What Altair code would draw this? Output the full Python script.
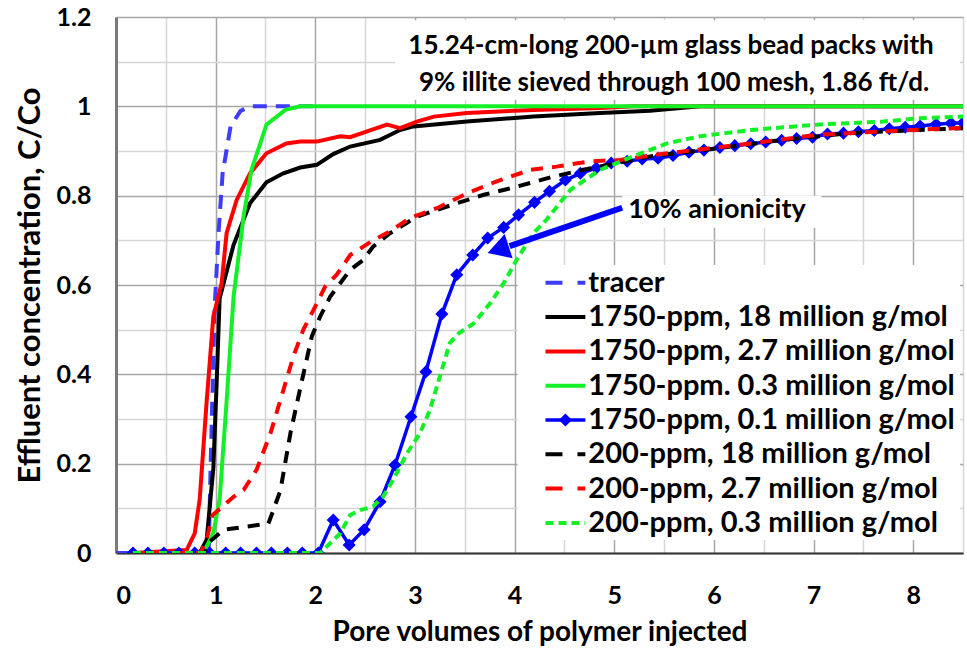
import altair as alt
import pandas as pd

# ---------------- data ----------------
tracer_x = [0.0, 0.93, 0.95, 0.99, 1.03, 1.07, 1.15, 1.25, 1.35, 2.0]
tracer_y = [0.0, 0.0, 0.2, 0.55, 0.72, 0.85, 0.955, 0.99, 1.0, 1.0]

k18_x = [0.17, 0.84, 0.91, 0.977, 1.01, 1.04, 1.18, 1.345, 1.51, 1.68, 1.85, 2.015, 2.18, 2.35,
         2.65, 2.85, 2.985, 3.52, 4.19, 4.86, 5.36, 5.86, 8.5]
k18_y = [0.0, 0.0, 0.03, 0.19, 0.38, 0.57, 0.69, 0.783, 0.83, 0.85, 0.863, 0.869, 0.893, 0.91,
         0.925, 0.947, 0.955, 0.966, 0.977, 0.985, 0.99, 1.0, 1.0]

k27_x = [0.17, 0.71, 0.79, 0.84, 0.91, 0.977, 1.06, 1.11, 1.21, 1.345, 1.51, 1.71, 1.85, 2.015,
         2.25, 2.35, 2.52, 2.72, 2.85, 3.02, 3.19, 3.52, 4.19, 4.86, 5.2, 8.5]
k27_y = [0.0, 0.007, 0.044, 0.12, 0.34, 0.53, 0.604, 0.716, 0.79, 0.85, 0.895, 0.917, 0.921, 0.921,
         0.933, 0.931, 0.944, 0.959, 0.951, 0.966, 0.977, 0.985, 0.992, 0.996, 1.0, 1.0]

k03_x = [0.17, 0.877, 0.977, 1.04, 1.11, 1.18, 1.28, 1.36, 1.51, 1.70, 1.85, 8.5]
k03_y = [0.0, 0.0, 0.045, 0.12, 0.34, 0.574, 0.753, 0.858, 0.959, 0.992, 1.0, 1.0]

k01_x = [0.17, 0.32, 0.48, 0.63, 0.79, 0.94, 1.10, 1.25, 1.41, 1.56, 1.72, 1.87, 2.03, 2.18, 2.34,
         2.49, 2.65, 2.80, 2.96, 3.11, 3.27, 3.42, 3.58, 3.73, 3.89, 4.04, 4.20, 4.35, 4.51, 4.66,
         4.82, 4.97, 5.13, 5.28, 5.44, 5.59, 5.75, 5.90, 6.06, 6.21, 6.37, 6.52, 6.68, 6.83, 6.99,
         7.14, 7.30, 7.45, 7.61, 7.76, 7.92, 8.07, 8.23, 8.38, 8.50]
k01_y = [0.0, 0.0, 0.0, 0.0, 0.0, 0.0, 0.0, 0.0, 0.0, 0.0, 0.0, 0.0, 0.0, 0.074, 0.018,
         0.052, 0.115, 0.197, 0.305, 0.406, 0.535, 0.623, 0.667, 0.705, 0.729, 0.757, 0.785, 0.81, 0.835, 0.85,
         0.862, 0.873, 0.877, 0.882, 0.884, 0.89, 0.897, 0.902, 0.908, 0.912, 0.916, 0.92, 0.924, 0.928, 0.931,
         0.938, 0.94, 0.943, 0.946, 0.95, 0.953, 0.956, 0.96, 0.962, 0.963]

d18_x = [0.17, 0.877, 0.94, 1.08, 1.53, 1.65, 1.75, 1.85, 1.965, 2.05, 2.15, 2.25, 2.35, 2.48, 2.58,
         2.75, 3.02, 3.22, 3.42, 3.69, 4.02, 4.36, 4.69, 5.03, 5.36, 6.03, 6.70, 7.37, 8.04, 8.5]
d18_y = [0.0, 0.0, 0.025, 0.052, 0.066, 0.14, 0.268, 0.37, 0.485, 0.53, 0.574, 0.604, 0.634, 0.656, 0.686,
         0.716, 0.753, 0.768, 0.783, 0.802, 0.82, 0.841, 0.858, 0.873, 0.888, 0.906, 0.925, 0.94, 0.947, 0.951]

d27_x = [0.17, 0.85, 0.92, 0.97, 1.18, 1.28, 1.41, 1.55, 1.68, 1.78, 1.88, 2.0, 2.10, 2.215, 2.35,
         2.58, 2.75, 2.95, 3.22, 3.52, 3.82, 4.16, 4.42, 4.76, 5.06, 5.36, 6.37, 7.03, 7.70, 8.5]
d27_y = [0.0, 0.0, 0.04, 0.085, 0.126, 0.141, 0.186, 0.268, 0.365, 0.44, 0.5, 0.552, 0.597, 0.623, 0.667,
         0.70, 0.72, 0.75, 0.772, 0.805, 0.832, 0.858, 0.865, 0.877, 0.88, 0.89, 0.917, 0.936, 0.944, 0.952]

d03_x = [0.17, 2.05, 2.25, 2.35, 2.45, 2.58, 2.68, 2.78, 2.92, 3.05, 3.15, 3.25, 3.35, 3.44, 3.59,
         3.755, 3.89, 4.02, 4.19, 4.32, 4.56, 4.86, 5.19, 5.53, 5.86, 6.37, 7.03, 7.70, 8.04, 8.5]
d03_y = [0.0, 0.0, 0.044, 0.085, 0.096, 0.104, 0.126, 0.163, 0.223, 0.268, 0.32, 0.395, 0.47, 0.492, 0.514,
         0.559, 0.604, 0.656, 0.716, 0.746, 0.813, 0.858, 0.888, 0.917, 0.933, 0.947, 0.959, 0.966, 0.973, 0.977]

legend_labels = ["tracer",
                 "1750-ppm, 18 million g/mol",
                 "1750-ppm, 2.7 million g/mol",
                 "1750-ppm. 0.3 million g/mol",
                 "1750-ppm, 0.1 million g/mol",
                 "200-ppm, 18 million g/mol",
                 "200-ppm, 2.7 million g/mol",
                 "200-ppm, 0.3 million g/mol"]

note_lines = ["15.24-cm-long 200-\u00b5m glass bead packs with",
              "9% illite sieved through 100 mesh, 1.86 ft/d."]
arrow_label = "10% anionicity"

# ---------------- styles ----------------
FONT = "Lato"
BLUE_T = "#3d3dff"
BLUE = "#0000ff"
RED = "#ff0000"
GREEN = "#14f028"
BLACK = "#000000"

styles = [
    (tracer_x, tracer_y, BLUE_T, [14, 9], 4),
    (k18_x, k18_y, BLACK, None, 4),
    (k27_x, k27_y, RED, None, 4),
    (k03_x, k03_y, GREEN, None, 4),
    (k01_x, k01_y, BLUE, None, 3.5),
    (d18_x, d18_y, BLACK, [12, 9], 4),
    (d27_x, d27_y, RED, [12, 9], 4),
    (d03_x, d03_y, GREEN, [8, 5], 4),
]

xscale = alt.Scale(domain=[0, 8.5], nice=False, zero=False)
yscale = alt.Scale(domain=[0, 1.2], nice=False, zero=False)

xaxis = alt.Axis(
    values=[i * 0.5 for i in range(18)],
    labelExpr="datum.value % 1 == 0 ? format(datum.value, 'd') : ''",
    title="Pore volumes of polymer injected",
    titleFont=FONT, titleFontSize=28, titleFontWeight="bold", titlePadding=10,
    labelFont=FONT, labelFontSize=25, labelFontWeight="bold", labelPadding=30,
    labelColor="black", titleColor="black",
    grid=True,
    gridColor={"condition": {"test": "datum.value % 1 == 0", "value": "#a6a6a6"}, "value": "#d6d6d6"},
    gridWidth=1.5,
    ticks=False, domainColor="#333333", domainWidth=2,
)
yaxis = alt.Axis(
    values=[round(i * 0.1, 1) for i in range(13)],
    labelExpr="abs(datum.value*5 - round(datum.value*5)) < 0.01 ? format(datum.value, '~g') : ''",
    title="Effluent concentration, C/Co",
    titleFont=FONT, titleFontSize=31, titleFontWeight="bold", titlePadding=10,
    labelFont=FONT, labelFontSize=25, labelFontWeight="bold", labelPadding=25,
    labelColor="black", titleColor="black",
    grid=True,
    gridColor={"condition": {"test": "abs(datum.value*5 - round(datum.value*5)) < 0.01", "value": "#a6a6a6"},
               "value": "#d6d6d6"},
    gridWidth=1.5,
    ticks=False, domainColor="#7a7a7a", domainWidth=3,
)

X = alt.X("x:Q", scale=xscale, axis=xaxis)
Y = alt.Y("y:Q", scale=yscale, axis=yaxis)

layers = []

# white boxes (annotation, legend, label)
boxes = pd.DataFrame({
    "x": [2.8, 4.03, 5.08],
    "x2": [8.47, 8.47, 7.08],
    "y": [1.015, 0.029, 0.728],
    "y2": [1.193, 0.645, 0.80],
})
layers.append(alt.Chart(boxes).mark_rect(color="white").encode(
    x=X, x2="x2:Q", y=Y, y2="y2:Q"))

for xs, ys, color, dash, w in styles:
    df = pd.DataFrame({"x": xs, "y": ys})
    kw = dict(color=color, strokeWidth=w, clip=True, interpolate="linear")
    if dash:
        kw["strokeDash"] = dash
    if color == BLUE:
        layers.append(alt.Chart(df).mark_line(
            point=alt.OverlayMarkDef(shape="diamond", size=170, color=BLUE, filled=True, opacity=1),
            **kw).encode(x=X, y=Y))
    else:
        layers.append(alt.Chart(df).mark_line(**kw).encode(x=X, y=Y))

# arrow for the 10% anionicity label
arrow = pd.DataFrame({"x": [5.08, 3.95], "y": [0.773, 0.687]})
layers.append(alt.Chart(arrow).mark_line(color=BLUE, strokeWidth=6).encode(x=X, y=Y))
head = pd.DataFrame({"x": [3.87], "y": [0.682]})
layers.append(alt.Chart(head).mark_point(shape="triangle", size=650, filled=True, color=BLUE,
                                         opacity=1, angle=252).encode(x=X, y=Y))
lab = pd.DataFrame({"x": [5.14], "y": [0.768], "t": [arrow_label]})
layers.append(alt.Chart(lab).mark_text(align="left", baseline="middle", font=FONT, fontSize=27,
                                       fontWeight="bold", color="black").encode(x=X, y=Y, text="t:N"))

# note text
note = pd.DataFrame({"x": [5.57, 5.6], "y": [1.136, 1.053], "t": note_lines})
layers.append(alt.Chart(note).mark_text(align="center", baseline="middle", font=FONT, fontSize=26,
                                        fontWeight="bold", color="black").encode(x=X, y=Y, text="t:N"))

# manual legend
row_y = [0.605 - 0.0768 * i for i in range(8)]
sx0, sx1, tx = 4.31, 4.71, 4.74
for i, (xs, ys, color, dash, w) in enumerate(styles):
    seg = pd.DataFrame({"x": [sx0, sx1], "y": [row_y[i], row_y[i]]})
    kw = dict(color=color, strokeWidth=w)
    if dash:
        kw["strokeDash"] = [17, 15] if dash[0] >= 12 else [8, 5]
    layers.append(alt.Chart(seg).mark_line(**kw).encode(x=X, y=Y))
    if color == BLUE:
        pt = pd.DataFrame({"x": [(sx0 + sx1) / 2], "y": [row_y[i]]})
        layers.append(alt.Chart(pt).mark_point(shape="diamond", size=170, filled=True, color=BLUE,
                                               opacity=1).encode(x=X, y=Y))
leg = pd.DataFrame({"x": [tx] * 8, "y": row_y, "t": legend_labels})
layers.append(alt.Chart(leg).mark_text(align="left", baseline="middle", font=FONT, fontSize=29,
                                       fontWeight="bold", color="black").encode(x=X, y=Y, text="t:N"))

chart = alt.layer(*layers).properties(
    width=847, height=536,
    autosize=alt.AutoSizeParams(type="none"),
    padding={"left": 116, "top": 17, "right": 4, "bottom": 95},
).configure_view(stroke="black", strokeWidth=3).configure(background="white")

chart.save("out.html", embed_options={"renderer": "svg", "actions": False})
